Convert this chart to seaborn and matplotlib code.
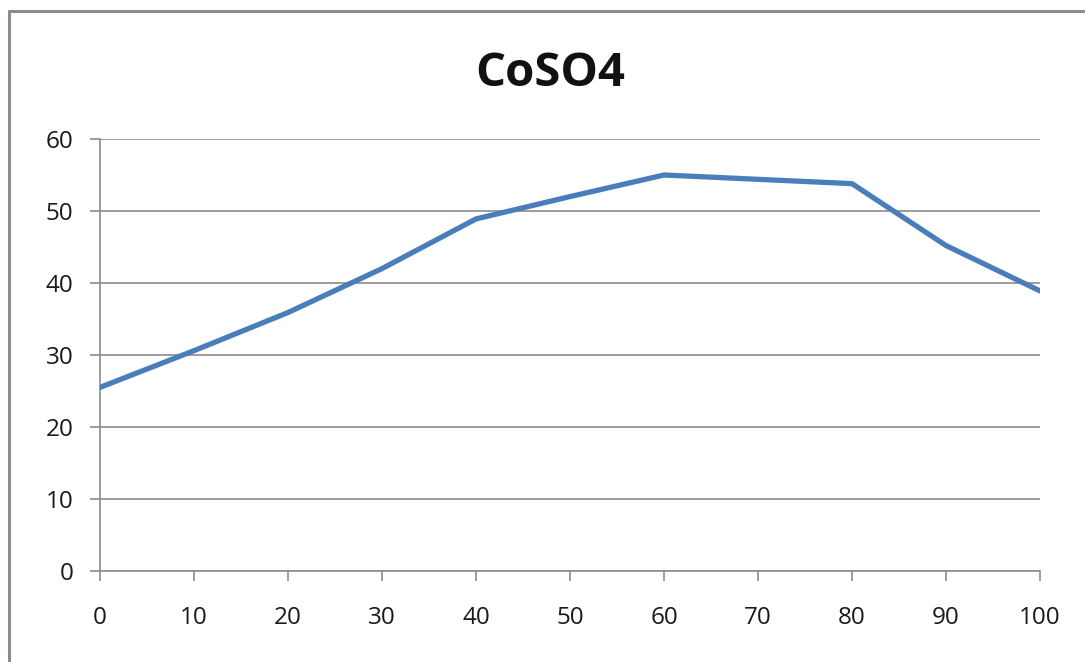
import matplotlib
matplotlib.use("Agg")
import matplotlib.pyplot as plt
from matplotlib.lines import Line2D
import seaborn as sns
import pandas as pd

# Solubility of CoSO4 against temperature
temperature = [0, 10, 20, 30, 40, 50, 60, 70, 80, 90, 100]
solubility = [25.5, 30.6, 35.9, 42.0, 48.9, 52.0, 55.0, 54.4, 53.8, 45.2, 38.9]
x_ticks = [0, 10, 20, 30, 40, 50, 60, 70, 80, 90, 100]
y_ticks = [0, 10, 20, 30, 40, 50, 60]
title = "CoSO4"

df = pd.DataFrame({"temperature": temperature, "solubility": solubility})

sns.set_theme(style="white")
plt.rcParams["font.family"] = ["Open Sans", "DejaVu Sans"]

W, H = 1085, 662
fig = plt.figure(figsize=(W / 100, H / 100), dpi=100)
ax = fig.add_axes([100 / W, 1 - 571 / H, (1040 - 100) / W, (571 - 139) / H])

grid_c = "#8c8c8c"
sns.lineplot(data=df, x="temperature", y="solubility", ax=ax,
             color="#4a7ebb", linewidth=3.8, zorder=3)

ax.set_xlim(0, 100)
ax.set_ylim(0, 60)
ax.set_xticks(x_ticks)
ax.set_yticks(y_ticks)
ax.set_xticklabels([str(v) for v in x_ticks])
ax.set_yticklabels([str(v) for v in y_ticks])
ax.set_xlabel("")
ax.set_ylabel("")

ax.yaxis.grid(True, color=grid_c, linewidth=1.2)
ax.xaxis.grid(False)
for side in ["top", "right"]:
    ax.spines[side].set_visible(False)
for side in ["left", "bottom"]:
    ax.spines[side].set_color(grid_c)
    ax.spines[side].set_linewidth(1.2)

ax.tick_params(axis="both", which="major", direction="out", length=7,
               width=1.2, color=grid_c, labelsize=17.5, labelcolor="#1a1a1a",
               left=True, bottom=True)
ax.tick_params(axis="x", pad=18)
ax.tick_params(axis="y", pad=12)

fig.text(550 / W, 1 - 73 / H, title, ha="center", va="center",
         fontsize=34, fontweight="bold", color="#111111")

# chart frame (open at right and bottom)
fx = 9 / W
fy = 1 - 11 / H
fig.add_artist(Line2D([fx, fx], [0, fy], transform=fig.transFigure,
                      color="#8c8c8c", linewidth=2.2))
fig.add_artist(Line2D([fx, 1], [fy, fy], transform=fig.transFigure,
                      color="#8c8c8c", linewidth=2.2))

fig.savefig("out.png", dpi=100, facecolor="white")
